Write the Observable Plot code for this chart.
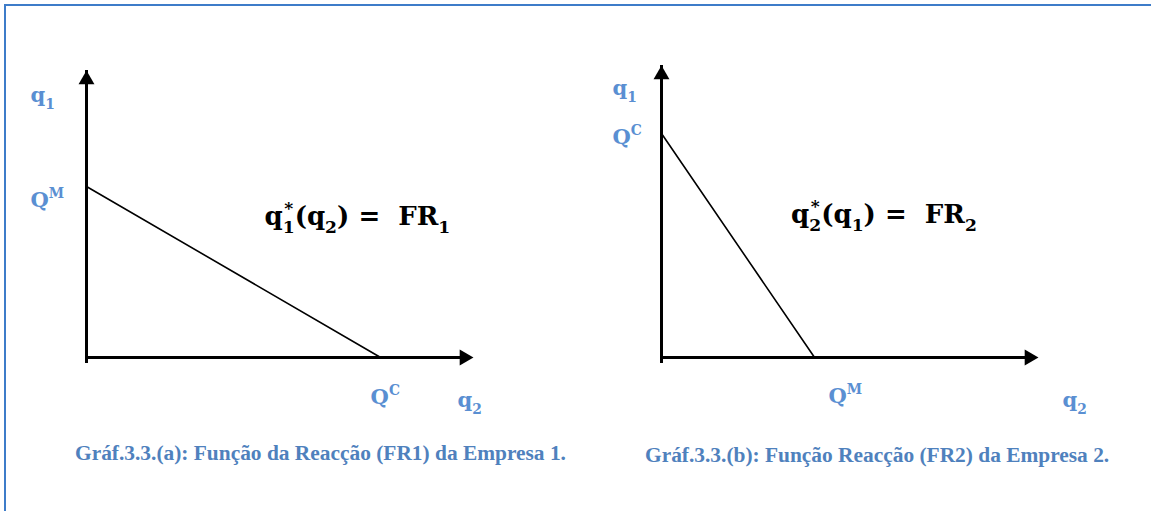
<!DOCTYPE html>
<html><head><meta charset="utf-8">
<script src="https://cdn.jsdelivr.net/npm/d3@7"></script>
<script src="https://cdn.jsdelivr.net/npm/@observablehq/plot@0.6"></script>
<style>
html,body{margin:0;padding:0;background:#fff;overflow:hidden}
#root{position:relative;width:1151px;height:511px;overflow:hidden}
#frame{position:absolute;left:4px;top:4px;width:1200px;height:600px;border-left:2px solid #3d7cc9;border-top:2px solid #3d7cc9;}
.panel{position:absolute;top:0}
.caption{position:absolute;font-family:"Liberation Serif","Times New Roman",serif;font-weight:bold;font-size:21.4px;color:#4f81bd;white-space:nowrap;line-height:24px}
</style></head><body><div id="root"><div id="frame"></div></div>
<script>
// ---- data ----
const panelIds = ["a", "b"];
const yIntercepts = [0.596, 0.767];   // where the reaction line meets the q1 axis (fraction of axis)
const xIntercepts = [0.76, 0.406];    // where the reaction line meets the q2 axis
const yAxisLabels = ["q_{1}", "q_{1}"];
const xAxisLabels = ["q_{2}", "q_{2}"];
const yInterceptLabels = ["Q^{M}", "Q^{C}"];
const xInterceptLabels = ["Q^{C}", "Q^{M}"];
const formulas = ["q_{1}^{*}(q_{2}) =  FR_{1}", "q_{2}^{*}(q_{1}) =  FR_{2}"];
const formulaX = [0.70, 0.59];
const formulaY = [0.49, 0.49];
const captions = [
  "Gráf.3.3.(a): Função da Reacção (FR1) da Empresa 1.",
  "Gráf.3.3.(b): Função Reacção (FR2) da Empresa 2."
];

// ---- layout / style ----
const layout = [
  {left: 0, width: 575, height: 430, mL: 86, mR: 102, mT: 70, mB: 73,
   yAx: [-56, 25], yInt: [-56, 14], xInt: [-10, 40], xAx: [-16, 43], cap: [75, 441]},
  {left: 575, width: 576, height: 430, mL: 86, mR: 113, mT: 65, mB: 73,
   yAx: [-49, 23], yInt: [-49, 4], xInt: [14, 39], xAx: [24, 43], cap: [645, 443]}
];
const labelColor = "#5a8fd2";
const labelFont = "DejaVu Serif, serif";

function richify(svg) {
  d3.select(svg).selectAll("text").each(function () {
    const s = this.textContent;
    if (!/[_^]\{/.test(s)) return;
    const F = parseFloat(getComputedStyle(this).fontSize);
    this.textContent = "";
    this.setAttribute("xml:space", "preserve");
    const re = /([_^])\{([^}]*)\}|([^_^]+)/g;
    let m, cur = 0, prev = null, pending = 0;
    while ((m = re.exec(s))) {
      const ts = document.createElementNS("http://www.w3.org/2000/svg", "tspan");
      const kind = m[3] !== undefined ? "n" : m[1];
      let target, size = kind === "n" ? F : 0.66 * F;
      ts.textContent = kind === "n" ? m[3] : m[2];
      ts.setAttribute("font-size", size);
      if (kind === "n") target = 0;
      else if (kind === "_") target = 0.3 * F;
      else target = (prev && prev.kind === "_") ? -0.42 * F : -0.45 * F;
      ts.setAttribute("dy", target - cur); cur = target;
      this.appendChild(ts);
      const len = ts.getComputedTextLength();
      let dx = pending; pending = 0;
      if (kind === "^" && prev && prev.kind === "_") {
        const w = Math.max(prev.len, len);
        dx += -prev.len + (w - len) / 2;
        pending = (w - len) / 2 + (w - prev.len);
      }
      if (dx) ts.setAttribute("dx", dx);
      prev = {kind, len};
    }
  });
}

const root = document.getElementById("root");
panelIds.forEach((id, i) => {
  const L = layout[i];
  const lineData = [{x: 0, y: yIntercepts[i]}, {x: xIntercepts[i], y: 0}];
  const lab = (text, x, y, off, extra = {}) => Plot.text([{x, y, t: text}], {
    x: "x", y: "y", text: "t", dx: off[0], dy: off[1], textAnchor: "start",
    fill: labelColor, fontSize: 21, fontWeight: "bold", fontFamily: labelFont, ...extra
  });
  const plot = Plot.plot({
    width: L.width, height: L.height,
    marginLeft: L.mL, marginRight: L.mR, marginTop: L.mT, marginBottom: L.mB,
    x: {domain: [0, 1], axis: null},
    y: {domain: [0, 1], axis: null},
    style: {background: "transparent", overflow: "visible", maxWidth: "none"},
    marks: [
      Plot.line(lineData, {x: "x", y: "y", stroke: "black", strokeWidth: 1.6}),
      Plot.ruleX([0], {y1: 0, y2: 1, stroke: "black", strokeWidth: 3, insetTop: 6}),
      Plot.ruleY([0], {x1: 0, x2: 1, stroke: "black", strokeWidth: 3, insetRight: 6}),
      Plot.dot([{x: 0, y: 1}], {x: "x", y: "y", symbol: "triangle", r: 5.9, fill: "black", stroke: "none", dy: 9.2}),
      Plot.dot([{x: 1, y: 0}], {x: "x", y: "y", symbol: "triangle", r: 5.9, fill: "black", stroke: "none", rotate: 90, dx: -9.2}),
      lab(yAxisLabels[i], 0, 1, L.yAx),
      lab(yInterceptLabels[i], 0, yIntercepts[i], L.yInt),
      lab(xInterceptLabels[i], xIntercepts[i], 0, L.xInt),
      lab(xAxisLabels[i], 1, 0, L.xAx),
      Plot.text([{x: formulaX[i], y: formulaY[i], t: formulas[i]}], {
        x: "x", y: "y", text: "t", textAnchor: "middle", fill: "black",
        fontSize: 26, fontWeight: "bold", fontFamily: labelFont
      })
    ]
  });
  const div = document.createElement("div");
  div.className = "panel";
  div.style.left = L.left + "px";
  div.appendChild(plot);
  root.appendChild(div);
  richify(plot);
  const cap = document.createElement("div");
  cap.className = "caption";
  cap.style.left = L.cap[0] + "px";
  cap.style.top = L.cap[1] + "px";
  cap.textContent = captions[i];
  root.appendChild(cap);
});
</script></body></html>
